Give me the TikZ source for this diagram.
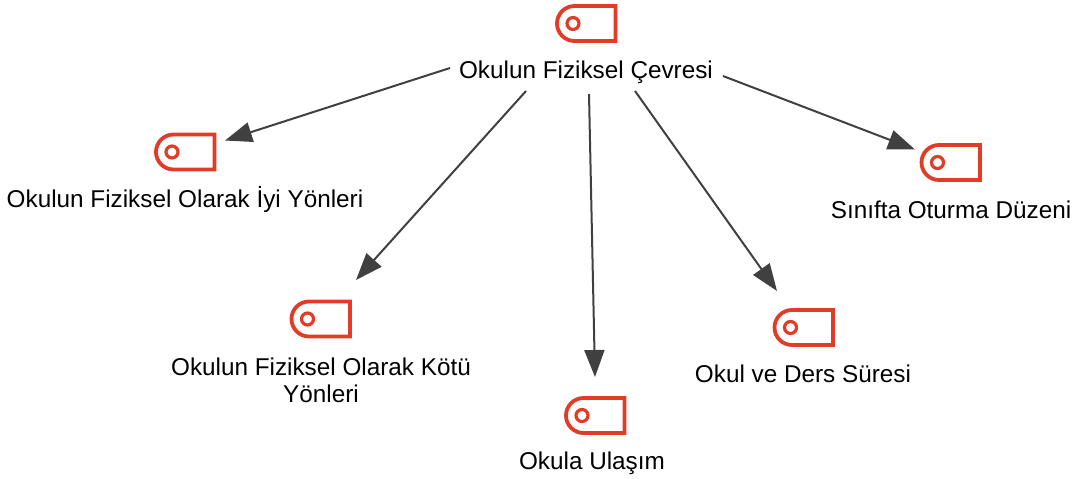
\documentclass[tikz,border=0pt]{standalone}
\usepackage{fontspec}
\setmainfont{Liberation Sans}
\usetikzlibrary{arrows.meta}
\definecolor{iconred}{HTML}{E03C28}
\definecolor{linegray}{HTML}{404040}
\tikzset{
  x=1pt,y=-1pt,
  lbl/.style={font=\fontsize{24.3}{27}\selectfont,text=black,inner sep=0pt,align=center},
  conn/.style={draw=linegray,line width=2pt,-{Triangle[length=27pt,width=20pt]}},
  tagicon/.pic={
    \draw[iconred,line width=3.8pt] (29,-17.5) -- (-12,-17.5) .. controls (-21.67,-17.5) and (-29.5,-9.67) .. (-29.5,0) .. controls (-29.5,9.67) and (-21.67,17.5) .. (-12,17.5) -- (29,17.5) -- cycle;
    \draw[iconred,line width=3.2pt] (-13.5,0) circle[radius=6];
  }
}
\begin{document}
\begin{tikzpicture}
\useasboundingbox (0,0) rectangle (1079,479);
\pic at (586.5,23.5) {tagicon};
\pic at (185.5,152) {tagicon};
\pic at (321,319) {tagicon};
\pic at (595.5,415.5) {tagicon};
\pic at (804,327.5) {tagicon};
\pic at (951,162.5) {tagicon};
\node[lbl] (top) at (586,72) {Okulun Fiziksel Çevresi};
\node[lbl] (iyi) at (185,199) {Okulun Fiziksel Olarak İyi Yönleri};
\node[lbl] (kotu) at (321,380) {Okulun Fiziksel Olarak Kötü\\Yönleri};
\node[lbl] (ulasim) at (592,463) {Okula Ulaşım};
\node[lbl] (sure) at (803,374) {Okul ve Ders Süresi};
\node[lbl] (sinif) at (951,210) {Sınıfta Oturma Düzeni};
\coordinate (a1) at (450,68);  \coordinate (b1) at (225,140.5);
\coordinate (a2) at (526,91);  \coordinate (b2) at (356,280);
\coordinate (a3) at (589,94);  \coordinate (b3) at (595,377);
\coordinate (a4) at (635,91);  \coordinate (b4) at (777,291);
\coordinate (a5) at (723,76);  \coordinate (b5) at (915,149.5);
\draw[conn] (a1) -- (b1);
\draw[conn] (a2) -- (b2);
\draw[conn] (a3) -- (b3);
\draw[conn] (a4) -- (b4);
\draw[conn] (a5) -- (b5);
\end{tikzpicture}
\end{document}
